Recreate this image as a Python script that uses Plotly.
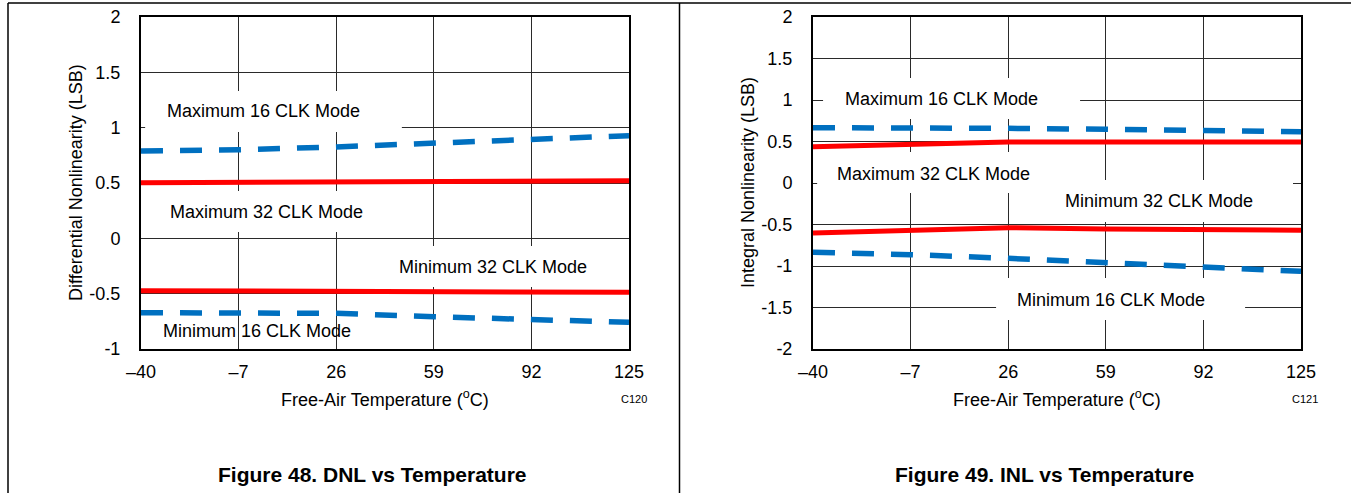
import plotly.graph_objects as go

# ---------------- data ----------------
temps = [-40, -7, 26, 59, 92, 125]
x_tick_vals = [-40, -7, 26, 59, 92, 125]
x_tick_text = ["–40", "–7", "26", "59", "92", "125"]

dnl_max16 = [0.79, 0.80, 0.826, 0.862, 0.898, 0.928]
dnl_max32 = [0.503, 0.505, 0.508, 0.511, 0.515, 0.52]
dnl_min32 = [-0.473, -0.476, -0.479, -0.482, -0.485, -0.488]
dnl_min16 = [-0.672, -0.672, -0.678, -0.708, -0.738, -0.759]

inl_max16 = [0.666, 0.666, 0.659, 0.647, 0.635, 0.618]
inl_max32 = [0.438, 0.466, 0.494, 0.494, 0.494, 0.494]
inl_min32 = [-0.602, -0.574, -0.538, -0.554, -0.562, -0.57]
inl_min16 = [-0.835, -0.863, -0.908, -0.956, -1.012, -1.064]

dnl_y_ticks = [-1, -0.5, 0, 0.5, 1, 1.5, 2]
dnl_y_text = ["-1", "-0.5", "0", "0.5", "1", "1.5", "2"]
inl_y_ticks = [-2, -1.5, -1, -0.5, 0, 0.5, 1, 1.5, 2]
inl_y_text = ["-2", "-1.5", "-1", "-0.5", "0", "0.5", "1", "1.5", "2"]

label_max16 = "Maximum 16 CLK Mode"
label_max32 = "Maximum 32 CLK Mode"
label_min32 = "Minimum 32 CLK Mode"
label_min16 = "Minimum 16 CLK Mode"

# ---------------- style ----------------
W, H = 1351, 493
FONT = "Arial, 'Liberation Sans', sans-serif"
BLUE = "#0070C0"
RED = "#FF0000"
GRID = "#2a2a2a"


def px(x):
    return x / W


def py(y):
    return 1 - y / H


fig = go.Figure()


def add_panel(fig, xa, ya, max16, max32, min32, min16):
    fig.add_trace(go.Scatter(x=temps, y=max16, mode="lines", xaxis=xa, yaxis=ya, hoverinfo="skip",
                             line=dict(color=BLUE, width=5.5, dash="22px,17px"), showlegend=False))
    fig.add_trace(go.Scatter(x=temps, y=max32, mode="lines", xaxis=xa, yaxis=ya, hoverinfo="skip",
                             line=dict(color=RED, width=5), showlegend=False))
    fig.add_trace(go.Scatter(x=temps, y=min32, mode="lines", xaxis=xa, yaxis=ya, hoverinfo="skip",
                             line=dict(color=RED, width=5), showlegend=False))
    fig.add_trace(go.Scatter(x=temps, y=min16, mode="lines", xaxis=xa, yaxis=ya, hoverinfo="skip",
                             line=dict(color=BLUE, width=5.5, dash="22px,17px"), showlegend=False))


add_panel(fig, "x", "y", dnl_max16, dnl_max32, dnl_min32, dnl_min16)
add_panel(fig, "x2", "y2", inl_max16, inl_max32, inl_min32, inl_min16)

axis_common = dict(showline=True, mirror=True, linecolor="black", linewidth=2,
                   showgrid=True, gridcolor=GRID, gridwidth=1, zeroline=False,
                   automargin=False, ticks="", fixedrange=True,
                   tickfont=dict(family=FONT, size=18, color="black"))

yd = [py(349), py(17)]
fig.update_layout(
    template="none",
    width=W, height=H, autosize=False,
    margin=dict(l=0, r=0, t=0, b=0, pad=0),
    paper_bgcolor="white", plot_bgcolor="white",
    font=dict(family=FONT, color="black"),
    hovermode=False,
    xaxis=dict(domain=[px(141), px(629)], anchor="y", range=[-40, 125],
               tickvals=x_tick_vals, ticktext=x_tick_text, ticklabelstandoff=5, **axis_common),
    yaxis=dict(domain=yd, anchor="x", range=[-1, 2],
               tickvals=dnl_y_ticks, ticktext=dnl_y_text, ticklabelstandoff=15, **axis_common),
    xaxis2=dict(domain=[px(813), px(1301)], anchor="y2", range=[-40, 125],
                tickvals=x_tick_vals, ticktext=x_tick_text, ticklabelstandoff=5, **axis_common),
    yaxis2=dict(domain=yd, anchor="x2", range=[-2, 2],
                tickvals=inl_y_ticks, ticktext=inl_y_text, ticklabelstandoff=15, **axis_common),
)

# white text boxes hiding the grid (between grid and traces)
boxes = [
    ("x", "y", -38.6, 48.2, 0.961, 1.331),
    ("x", "y", -38.6, 51.6, 0.057, 0.428),
    ("x", "y", 54.3, 115.2, -0.44, -0.069),
    ("x2", "y2", -36.6, 50.3, 0.771, 1.265),
    ("x2", "y2", -38.6, 38.4, -0.12, 0.373),
    ("x2", "y2", 36.7, 122.3, -0.47, 0.036),
    ("x2", "y2", 21.9, 106.1, -1.65, -1.145),
]
for xr, yr, x0, x1, y0, y1 in boxes:
    fig.add_shape(type="rect", xref=xr, yref=yr, x0=x0, x1=x1, y0=y0, y1=y1,
                  fillcolor="white", line=dict(width=0), layer="between")

# page frame lines
frame = dict(color="black", width=1.5)
fig.add_shape(type="line", xref="paper", yref="paper", x0=px(8), x1=1, y0=py(3), y1=py(3), line=frame)
fig.add_shape(type="line", xref="paper", yref="paper", x0=px(8), x1=px(8), y0=0, y1=py(3), line=frame)
fig.add_shape(type="line", xref="paper", yref="paper", x0=px(679.5), x1=px(679.5), y0=0, y1=py(3), line=frame)

lab_font = dict(family=FONT, size=18, color="black")
series_labels = [
    ("x", "y", 1.25, 1.151, label_max16),
    ("x", "y", 2.6, 0.238, label_max32),
    ("x", "y", 79.0, -0.259, label_min32),
    ("x", "y", -0.8, -0.837, label_min16),
    ("x2", "y2", 3.3, 1.012, label_max16),
    ("x2", "y2", 0.6, 0.108, label_max32),
    ("x2", "y2", 77.0, -0.217, label_min32),
    ("x2", "y2", 60.8, -1.41, label_min16),
]
for xr, yr, x, y, t in series_labels:
    fig.add_annotation(xref=xr, yref=yr, x=x, y=y, text=t, showarrow=False, font=lab_font)

paper_text = [
    (76, 183, "Differential Nonlinearity (LSB)", 18, -90),
    (748, 183, "Integral Nonlinearity (LSB)", 18, -90),
    (385, 398, "Free-Air Temperature (<sup>o</sup>C)", 18, 0),
    (1057, 398, "Free-Air Temperature (<sup>o</sup>C)", 18, 0),
    (634, 399, "C120", 11, 0),
    (1305, 399, "C121", 11, 0),
    (372, 474, "<b>Figure 48. DNL vs Temperature</b>", 21, 0),
    (1044, 474, "<b>Figure 49. INL vs Temperature</b>", 21, 0),
]
for x, y, t, s, ang in paper_text:
    fig.add_annotation(xref="paper", yref="paper", x=px(x), y=py(y), text=t, showarrow=False,
                       textangle=ang, xanchor="center", yanchor="middle",
                       font=dict(family=FONT, size=s, color="black"))

fig.write_html("out.html", config={"responsive": False, "displayModeBar": False, "staticPlot": True},
               post_script="document.body.style.margin='0';document.body.style.overflow='hidden';")
